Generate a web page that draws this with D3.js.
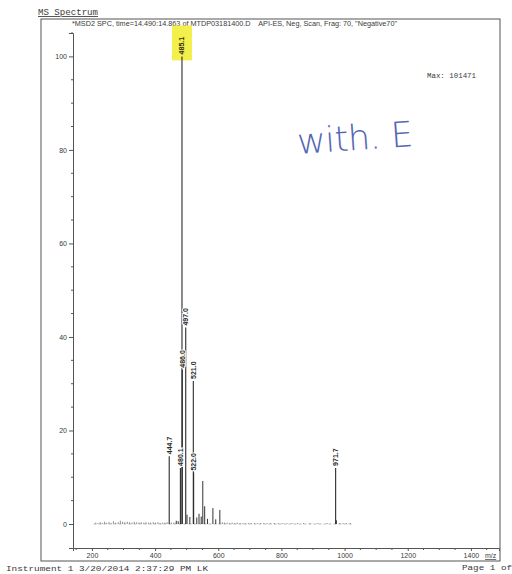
<!DOCTYPE html>
<html>
<head>
<meta charset="utf-8">
<script src="https://cdn.jsdelivr.net/npm/d3@7"></script>
<style>
  body { margin: 0; background: #fff; }
  svg { display: block; }
</style>
</head>
<body>
<div id="chart"></div>
<script>
const width = 512
const height = 574

// labelled peaks (m/z, relative abundance %)
const peakMz = [444.7, 480.1, 485.1, 486.0, 497.0, 521.0, 522.0, 971.7]
const peakInt = [14.5, 12.0, 100, 33.0, 42.0, 30.6, 11.0, 12.0]

// unlabelled smaller peaks
const minorMz = [501.0, 510.0, 539.0, 551.0, 557.0, 583.0, 605.0, 467.0, 473.0, 532.0, 546.0, 566.0, 592.0, 974.0]
const minorInt = [2.0, 1.5, 2.2, 9.2, 3.8, 3.4, 3.0, 0.7, 0.6, 1.4, 1.6, 1.1, 1.0, 0.8]

// baseline noise
const noiseMz = [212, 219, 226, 233, 240, 247, 254, 261, 268, 275, 283, 290, 297, 304, 312, 319, 327, 334, 342, 349,
  356, 364, 371, 379, 386, 394, 401, 409, 416, 424, 431, 438, 452, 459, 613, 620, 628, 636, 644, 652,
  660, 669, 678, 687, 696, 705, 715, 724, 734, 744, 755, 766, 778, 790, 803, 818, 834, 851, 870, 890,
  915, 945, 985, 995, 1006, 1018]
const noiseInt = [0.3, 0.2, 0.4, 0.2, 0.5, 0.3, 0.4, 0.2, 0.6, 0.3, 0.4, 0.7, 0.5, 0.4, 0.5, 0.4, 0.3, 0.5, 0.4, 0.3,
  0.4, 0.3, 0.4, 0.3, 0.3, 0.4, 0.3, 0.4, 0.2, 0.3, 0.3, 0.4, 0.3, 0.3, 0.4, 0.3, 0.3, 0.2, 0.3, 0.2,
  0.3, 0.2, 0.2, 0.2, 0.2, 0.2, 0.2, 0.2, 0.2, 0.2, 0.2, 0.2, 0.2, 0.2, 0.2, 0.2, 0.2, 0.2, 0.2, 0.2,
  0.2, 0.2, 0.2, 0.2, 0.2, 0.2]

const xTicks = [200, 400, 600, 800, 1000, 1200, 1400]
const yTicks = [0, 20, 40, 60, 80, 100]

const titleText = '*MSD2 SPC, time=14.490:14.863 of MTDP03181400.D    API-ES, Neg, Scan, Frag: 70, "Negative70"'

const svg = d3.select("#chart").append("svg")
  .attr("width", width)
  .attr("height", height)

const ink = "#3a3a3a"

const x = d3.scaleLinear().domain([140, 1489]).range([73, 499])
const y = d3.scaleLinear().domain([-5.13, 105]).range([548, 33])

// page frame
svg.append("rect")
  .attr("x", 41).attr("y", 19)
  .attr("width", 459).attr("height", 542)
  .attr("fill", "none")
  .attr("stroke", "#555")
  .attr("stroke-width", 1)

svg.append("text")
  .attr("x", 38).attr("y", 15)
  .attr("font-family", "Liberation Mono, DejaVu Sans Mono, monospace")
  .attr("font-size", "8.5px")
  .attr("fill", ink)
  .attr("text-decoration", "underline")
  .attr("textLength", 60)
  .attr("lengthAdjust", "spacingAndGlyphs")
  .text("MS Spectrum")

svg.append("text")
  .attr("x", 72).attr("y", 25.5)
  .attr("font-family", "Liberation Sans, Arial, sans-serif")
  .attr("font-size", "6.5px")
  .attr("fill", ink)
  .attr("textLength", 325)
  .attr("lengthAdjust", "spacingAndGlyphs")
  .style("white-space", "pre")
  .text(titleText)

svg.append("text")
  .attr("x", 427).attr("y", 78)
  .attr("font-family", "Liberation Mono, DejaVu Sans Mono, monospace")
  .attr("font-size", "7px")
  .attr("fill", ink)
  .attr("textLength", 49)
  .attr("lengthAdjust", "spacingAndGlyphs")
  .text("Max: 101471")

// handwritten note
svg.append("text")
  .attr("x", 298).attr("y", 154)
  .attr("transform", "rotate(-4 298 154)")
  .attr("font-family", "DejaVu Sans, sans-serif")
  .attr("font-weight", 200)
  .attr("font-size", "35px")
  .attr("fill", "#5566b4")
  .attr("textLength", 116)
  .attr("lengthAdjust", "spacing")
  .text("with. E")

// y axis
const yAxis = svg.append("g")
  .attr("transform", "translate(73,0)")
  .call(d3.axisLeft(y).tickValues(yTicks).tickSize(4).tickPadding(2))
yAxis.select(".domain").attr("stroke", "#555")
yAxis.selectAll(".tick line").attr("stroke", "#555")
yAxis.selectAll("text")
  .attr("font-family", "Liberation Sans, Arial, sans-serif")
  .attr("font-size", "7px")
  .attr("fill", ink)

svg.append("g")
  .selectAll("line")
  .data(d3.range(5, 106, 5).filter(v => v % 20 !== 0))
  .join("line")
    .attr("x1", 71).attr("x2", 73)
    .attr("y1", d => y(d)).attr("y2", d => y(d))
    .attr("stroke", "#555")

// x axis
const xAxis = svg.append("g")
  .attr("transform", "translate(0,548)")
  .call(d3.axisBottom(x).tickValues(xTicks).tickFormat(d3.format("d")).tickSize(3).tickPadding(2))
xAxis.select(".domain").attr("stroke", "#555")
xAxis.selectAll(".tick line").attr("stroke", "#555")
xAxis.selectAll("text")
  .attr("font-family", "Liberation Sans, Arial, sans-serif")
  .attr("font-size", "7px")
  .attr("fill", ink)

svg.append("g")
  .selectAll("line")
  .data(d3.range(150, 1489, 50).filter(v => v % 200 !== 0))
  .join("line")
    .attr("x1", d => x(d)).attr("x2", d => x(d))
    .attr("y1", 548).attr("y2", 550)
    .attr("stroke", "#555")

svg.append("text")
  .attr("x", 485).attr("y", 558)
  .attr("font-family", "Liberation Sans, Arial, sans-serif")
  .attr("font-size", "7px")
  .attr("fill", ink)
  .attr("text-decoration", "underline")
  .text("m/z")

// spectrum sticks
const sticks = svg.append("g")

svg.insert("line", "g")
  .attr("x1", x(205)).attr("x2", x(1025))
  .attr("y1", y(0)).attr("y2", y(0))
  .attr("stroke", "#999")
  .attr("stroke-width", 0.7)
  .attr("stroke-dasharray", "3,2")

sticks.selectAll("line.noise")
  .data(noiseMz.map((m, i) => [m, noiseInt[i]]))
  .join("line")
    .attr("class", "noise")
    .attr("x1", d => x(d[0])).attr("x2", d => x(d[0]))
    .attr("y1", y(0)).attr("y2", d => y(d[1]))
    .attr("stroke", "#777")
    .attr("stroke-width", 0.8)

sticks.selectAll("line.minor")
  .data(minorMz.map((m, i) => [m, minorInt[i]]))
  .join("line")
    .attr("class", "minor")
    .attr("x1", d => x(d[0])).attr("x2", d => x(d[0]))
    .attr("y1", y(0)).attr("y2", d => y(d[1]))
    .attr("stroke", "#333")
    .attr("stroke-width", 1)

const peaks = peakMz.map((m, i) => ({mz: m, val: peakInt[i]}))

// yellow highlighter behind base peak label
const base = peaks.find(d => d.val === 100)
svg.insert("rect", "g")
  .attr("x", x(base.mz) - 10).attr("y", y(100) - 31)
  .attr("width", 20).attr("height", 35)
  .attr("fill", "#f2ee3a")
  .attr("opacity", 0.9)

sticks.selectAll("line.peak")
  .data(peaks)
  .join("line")
    .attr("class", "peak")
    .attr("x1", d => x(d.mz)).attr("x2", d => x(d.mz))
    .attr("y1", y(0)).attr("y2", d => y(d.val))
    .attr("stroke", "#2a2a2a")
    .attr("stroke-width", 1.1)

sticks.selectAll("text.peak")
  .data(peaks)
  .join("text")
    .attr("class", "peak")
    .attr("transform", d => `translate(${x(d.mz)},${y(d.val) - 2}) rotate(-90)`)
    .attr("dy", "0.35em")
    .attr("font-family", "Liberation Sans, Arial, sans-serif")
    .attr("font-size", "7px")
    .attr("font-weight", "bold")
    .attr("fill", "#2a2a2a")
    .attr("stroke", d => d.val === 100 ? "#f2ee3a" : "#fff")
    .attr("stroke-width", 2)
    .attr("paint-order", "stroke")
    .text(d => d.mz.toFixed(1))

// footer
svg.append("text")
  .attr("x", 6).attr("y", 571)
  .attr("font-family", "Liberation Mono, DejaVu Sans Mono, monospace")
  .attr("font-size", "8px")
  .attr("fill", ink)
  .attr("textLength", 202)
  .attr("lengthAdjust", "spacingAndGlyphs")
  .text("Instrument 1 3/20/2014 2:37:29 PM LK")

svg.append("text")
  .attr("x", 462).attr("y", 570)
  .attr("font-family", "Liberation Mono, DejaVu Sans Mono, monospace")
  .attr("font-size", "8px")
  .attr("fill", ink)
  .attr("textLength", 50)
  .attr("lengthAdjust", "spacingAndGlyphs")
  .text("Page 1 of")
</script>
</body>
</html>
